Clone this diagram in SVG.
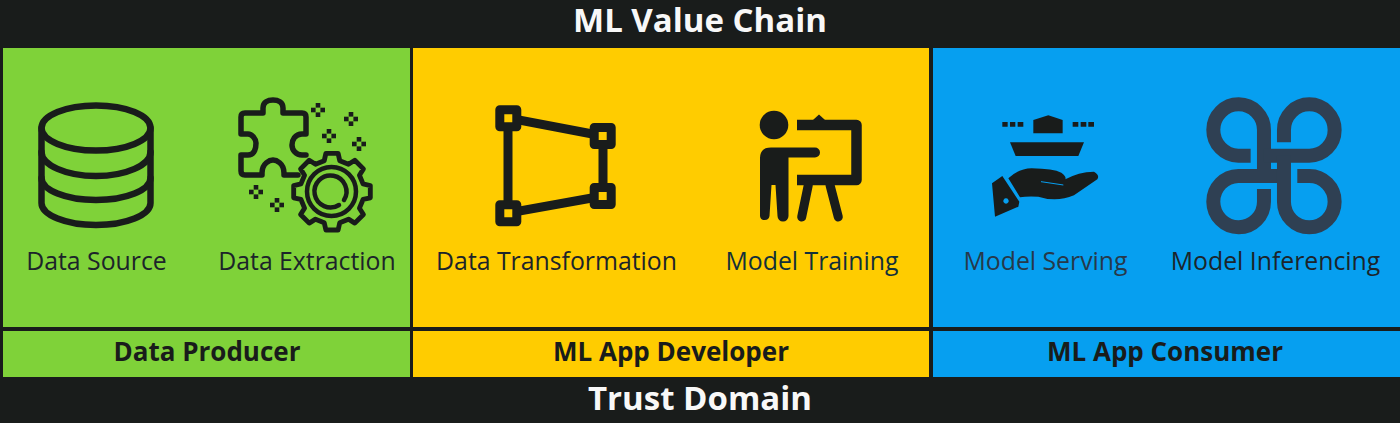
<svg xmlns="http://www.w3.org/2000/svg" width="1400" height="423" viewBox="0 0 1400 423">
<style>
text{font-family:"Open Sans","Noto Sans",sans-serif;text-anchor:middle}
.t{font-size:33px;font-weight:700;fill:#f8f8f8}
.r{font-size:26px;font-weight:700;fill:#191c1b}
.l{font-size:24.800px;font-weight:500;fill:#1c242a}
.g{fill:#7fd239}.y{fill:#ffcc00}.b{fill:#069ff0}
.i{fill:none;stroke:#191c1b;stroke-linecap:round;stroke-linejoin:round}
.f{fill:#191c1b}
.c{fill:none;stroke:#2f4053;stroke-width:42}
</style>
<defs>
<g id="sp" class="f"><rect x="-2.300" y="-7" width="4.600" height="4.600"/><rect x="-2.300" y="2.400" width="4.600" height="4.600"/><rect x="-7" y="-2.300" width="4.600" height="4.600"/><rect x="2.400" y="-2.300" width="4.600" height="4.600"/></g>
<rect id="nd" x="-8.500" y="-8.500" width="17" height="17" fill="#ffcc00" stroke="#191c1b" stroke-width="9" stroke-linejoin="round"/>
</defs>
<rect width="1400" height="423" fill="#191c1b"/>
<g id="title"><text class="t" x="700" y="32">ML Value Chain</text></g>
<g id="data-producer">
<rect class="g" x="3" y="48" width="407" height="279"/><rect class="g" x="3" y="331" width="407" height="46"/>
<text class="r" x="207" y="361">Data Producer</text>
</g>
<g id="ml-app-developer">
<rect class="y" x="413" y="48" width="516" height="279"/><rect class="y" x="413" y="331" width="516" height="46"/>
<text class="r" x="671" y="361">ML App Developer</text>
</g>
<g id="ml-app-consumer">
<rect class="b" x="933" y="48" width="467" height="279"/><rect class="b" x="933" y="331" width="467" height="46"/>
<text class="r" x="1165" y="361">ML App Consumer</text>
</g>
<g id="data-source">
<g class="i" stroke-width="6.500">
<ellipse cx="96" cy="128" rx="54.500" ry="22.500"/>
<path d="M41.500 128V203C41.500 215 66 225 96 225S150.500 215 150.500 203V128"/>
<path d="M41.500 152C41.500 165 66 176 96 176S150.500 165 150.500 152"/>
<path d="M41.500 178C41.500 190 66 200 96 200S150.500 190 150.500 178"/>
</g>
<text class="l" x="96.500" y="270">Data Source</text>
</g>
<g id="data-extraction">
<path class="i" stroke-width="5.500" d="M298 175H284V173C284 163 276 160 273 160S262 163 262 173V175H245Q241 175 241 171V155H248C255 155 256 147 256 143S252 134 248 134H241V117Q241 113 245 113H263V108C263 102 268 100 273 100S283 102 283 108V113H302Q306 113 306 117V134H302C295 134 292 140 292 145S296 155 302 155H306"/>
<use href="#sp" x="318" y="110"/><use href="#sp" x="351" y="119"/><use href="#sp" x="329" y="136"/><use href="#sp" x="359" y="144"/><use href="#sp" x="256" y="192"/><use href="#sp" x="277" y="205"/>
<path class="i" stroke-width="5" transform="translate(332 191.700) scale(.97)" d="M-8-32L-6.300-39.500L6.300-39.500L8-32L17-28.300L23.500-32.400L32.400-23.500L28.300-17L32-8L39.500-6.300L39.500 6.300L32 8L28.300 17L32.400 23.500L23.500 32.400L17 28.300L8 32L6.300 39.500L-6.300 39.500L-8 32L-17 28.300L-23.500 32.400L-32.400 23.500L-28.300 17L-32 8L-39.500 6.300L-39.500-6.300L-32-8L-28.300-17L-32.400-23.500L-23.500-32.400L-17-28.300Z"/>
<circle class="i" stroke-width="4.500" cx="331.500" cy="191.500" r="24.500"/>
<path class="i" stroke-width="4.500" d="M339 205A16 16 0 1 1 344 200"/>
<text class="l" x="307" y="270">Data Extraction</text>
</g>
<g id="data-transformation">
<path class="i" stroke-width="9" d="M508 118L603 136V196L508 213Z"/>
<use href="#nd" x="508.300" y="118.300"/><use href="#nd" x="602.700" y="136"/><use href="#nd" x="602.700" y="196"/><use href="#nd" x="508.300" y="213.300"/>
<text class="l" x="556.500" y="270">Data Transformation</text>
</g>
<g id="model-training">
<circle class="f" cx="774" cy="125" r="14.300"/>
<path class="f" d="M760 158Q760 147.500 771 147.500H815A5 5 0 0 1 815 157.500H788.500V216A5.500 5.500 0 0 1 777.500 216L775.500 185H771.500L769.500 216A4.800 4.800 0 0 1 760 216Z"/>
<path class="i" stroke-width="10.500" d="M797 125H856.500V180H797" style="stroke-linecap:butt"/>
<path class="f" d="M813 120L819 114.500L825 120Z"/>
<path class="i" stroke-width="9" d="M808.300 185L801.700 217M830 185L838.300 217"/>
<text class="l" x="812" y="270" style="fill:#12303a">Model Training</text>
</g>
<g id="model-serving">
<g transform="translate(970 90) scale(.3333)" class="f">
<path d="M97 96h16v14h-16zM120 96h16v14h-16zM143 96h17v14h-17zM308 96h17v14h-17zM332 96h17v14h-17zM355 96h17v14h-17z"/>
<path d="M190 90L235 76L278 90V130H190Z"/>
<path d="M120 157H342L325 198H137Z"/>
<path fill-rule="evenodd" d="M66 280L97 258L148 335L145 350L75 380ZM108 325a8 8 0 1 0 .1 0Z"/>
<path d="M115 265Q145 236 185 235Q250 236 274 248Q290 260 286 268Q325 246 372 245Q390 255 382 268L312 316Q260 338 205 320Q170 318 150 322Z"/>
<path d="M213 275L280 285" stroke="#069ff0" stroke-width="3" fill="none"/>
</g>
<text class="l" x="1045.500" y="270" style="fill:#26394a">Model Serving</text>
</g>
<g id="model-inferencing">
<g transform="translate(970 90) scale(.3333)">
<path class="c" d="M842 197H805A76 77 0 1 1 882 120V260"/>
<path class="c" d="M942 157V120A76 77 0 1 1 1018 197H882"/>
<path class="c" d="M882 297V335A76 77 0 1 1 805 258H942"/>
<path class="c" d="M982 258H1018A76 77 0 1 1 942 335V197"/>
</g>
<text class="l" x="1275.500" y="270">Model Inferencing</text>
</g>
<g id="footer"><text class="t" x="700" y="410">Trust Domain</text></g>
<g id="connectors"></g>
</svg>
